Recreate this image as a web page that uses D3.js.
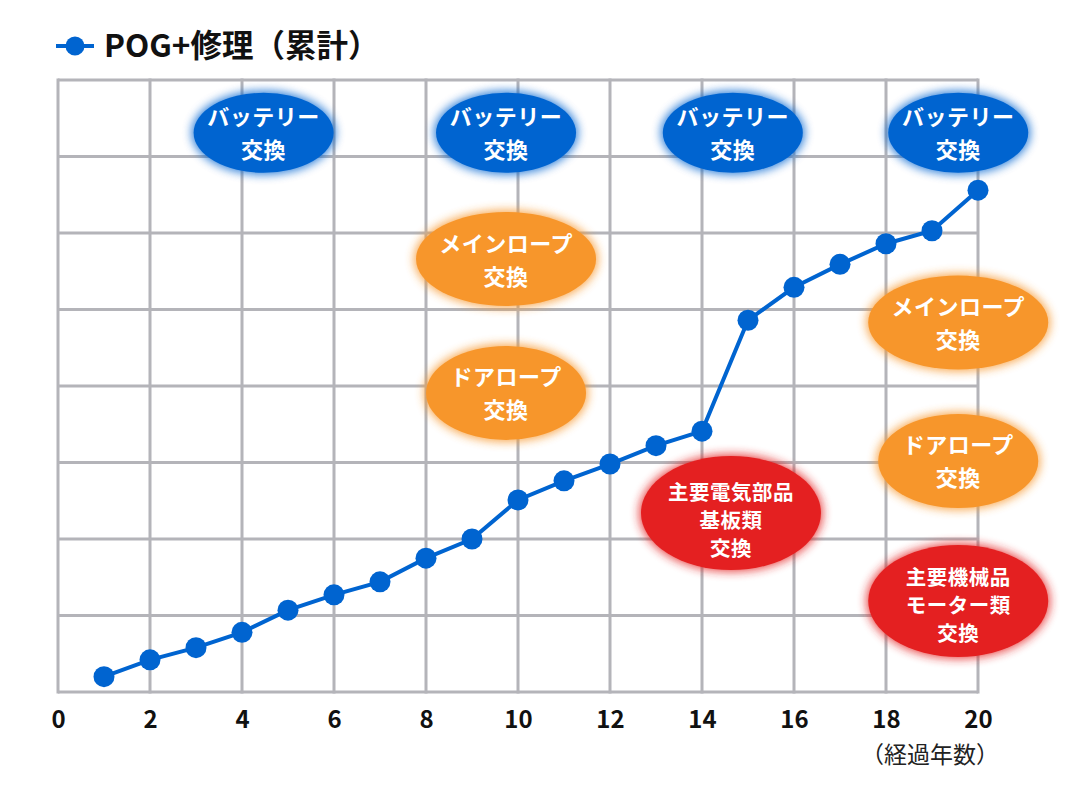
<!DOCTYPE html>
<html>
<head>
<meta charset="utf-8">
<script src="https://cdn.jsdelivr.net/npm/d3@7"></script>
<style>
  body { margin: 0; background: #fff; }
  svg { font-family: "Noto Sans CJK JP", "Noto Sans", sans-serif; }
</style>
</head>
<body>
<svg id="drawing_region"></svg>
<script>
// data
const years = d3.range(1, 21);
const costs = [0.2, 0.42, 0.58, 0.78, 1.07, 1.27, 1.44, 1.75, 2.0, 2.51,
               2.76, 2.98, 3.22, 3.41, 4.86, 5.29, 5.59, 5.86, 6.03, 6.56];
const xTicks = [0, 2, 4, 6, 8, 10, 12, 14, 16, 18, 20];
const yGrid = [0, 1, 2, 3, 4, 5, 6, 7, 8];
const seriesName = "POG+修理（累計）";
const xTitle = "（経過年数）";

// annotation bubbles (year, level, kind, lines)
const notes = [
  { x: 4.47, y: 7.31, kind: "battery", lines: ["バッテリー", "交換"] },
  { x: 9.74, y: 7.31, kind: "battery", lines: ["バッテリー", "交換"] },
  { x: 14.67, y: 7.31, kind: "battery", lines: ["バッテリー", "交換"] },
  { x: 19.57, y: 7.31, kind: "battery", lines: ["バッテリー", "交換"] },
  { x: 9.74, y: 5.66, kind: "main", lines: ["メインロープ", "交換"] },
  { x: 19.57, y: 4.83, kind: "main", lines: ["メインロープ", "交換"] },
  { x: 9.74, y: 3.91, kind: "door", lines: ["ドアロープ", "交換"] },
  { x: 19.57, y: 3.02, kind: "door", lines: ["ドアロープ", "交換"] },
  { x: 14.63, y: 2.34, kind: "elec", lines: ["主要電気部品", "基板類", "交換"] },
  { x: 19.57, y: 1.19, kind: "mech", lines: ["主要機械品", "モーター類", "交換"] }
];

const styles = {
  battery: { fill: "#0064d0", rx: 70, ry: 40, lh: 33, fs: 22, dy: 9 },
  main:    { fill: "#f7962b", rx: 90, ry: 47, lh: 33, fs: 22, dy: 9 },
  door:    { fill: "#f7962b", rx: 80, ry: 47, lh: 33, fs: 22, dy: 9 },
  elec:    { fill: "#e42021", rx: 90, ry: 57, lh: 28, fs: 20.5, dy: 15 },
  mech:    { fill: "#e42021", rx: 90, ry: 56, lh: 28, fs: 20.5, dy: 12 }
};

const width = 1068, height = 788;
const plotLeft = 58, plotRight = 978, plotTop = 80, plotBottom = 692;
const lineColor = "#0064d0";

const svg = d3.select("#drawing_region")
  .attr("width", width)
  .attr("height", height);

const x = d3.scaleLinear().domain([0, 20]).range([plotLeft, plotRight]);
const y = d3.scaleLinear().domain([0, 8]).range([plotBottom, plotTop]);

const defs = svg.append("defs");
defs.append("filter")
  .attr("id", "glow")
  .attr("x", "-30%").attr("y", "-30%")
  .attr("width", "160%").attr("height", "160%")
  .append("feGaussianBlur")
  .attr("stdDeviation", 5);

// grid
const grid = svg.append("g")
  .attr("stroke", "#b4b4b9")
  .attr("stroke-width", 3);

grid.selectAll("line.h")
  .data(yGrid)
  .enter()
  .append("line")
  .attr("class", "h")
  .attr("x1", x(0)).attr("x2", x(20))
  .attr("y1", d => y(d)).attr("y2", d => y(d));

grid.selectAll("line.v")
  .data(xTicks)
  .enter()
  .append("line")
  .attr("class", "v")
  .attr("x1", d => x(d)).attr("x2", d => x(d))
  .attr("y1", y(8) - 1.5).attr("y2", y(0) + 1.5);

// x axis labels
const xAxis = d3.axisBottom(x)
  .tickValues(xTicks)
  .tickSize(0)
  .tickPadding(0);

svg.append("g")
  .attr("transform", `translate(0, ${plotBottom})`)
  .call(xAxis)
  .call(g => g.select(".domain").remove())
  .selectAll("text")
  .attr("y", 36)
  .attr("dy", null)
  .attr("font-family", "'Noto Sans CJK JP', sans-serif")
  .attr("font-size", 24)
  .attr("font-weight", "bold")
  .attr("fill", "#111");

svg.append("text")
  .attr("x", x(20) + 21)
  .attr("y", 763)
  .attr("text-anchor", "end")
  .attr("font-size", 23)
  .attr("fill", "#222")
  .text(xTitle);

// bubbles
const bubble = svg.selectAll("g.note")
  .data(notes)
  .enter()
  .append("g")
  .attr("class", "note")
  .attr("transform", d => `translate(${x(d.x)}, ${y(d.y)})`);

bubble.append("ellipse")
  .attr("rx", d => styles[d.kind].rx + 2)
  .attr("ry", d => styles[d.kind].ry + 2)
  .attr("fill", d => styles[d.kind].fill)
  .attr("opacity", 0.8)
  .attr("filter", "url(#glow)");

bubble.append("ellipse")
  .attr("rx", d => styles[d.kind].rx)
  .attr("ry", d => styles[d.kind].ry)
  .attr("fill", d => styles[d.kind].fill);

bubble.each(function(d) {
  const s = styles[d.kind];
  const n = d.lines.length;
  d3.select(this).selectAll("text")
    .data(d.lines)
    .enter()
    .append("text")
    .attr("text-anchor", "middle")
    .attr("y", (t, i) => (i - (n - 1) / 2) * s.lh + s.dy)
    .attr("fill", "#fff")
    .attr("font-size", s.fs)
    .attr("font-weight", "bold")
    .attr("letter-spacing", 0.5)
    .text(t => t);
});

// line + points
const line = d3.line()
  .x((d, i) => x(years[i]))
  .y(d => y(d));

svg.append("path")
  .datum(costs)
  .attr("d", line)
  .attr("fill", "none")
  .attr("stroke", lineColor)
  .attr("stroke-width", 4);

svg.selectAll("circle.pt")
  .data(costs)
  .enter()
  .append("circle")
  .attr("class", "pt")
  .attr("cx", (d, i) => x(years[i]))
  .attr("cy", d => y(d))
  .attr("r", 10.5)
  .attr("fill", lineColor);

// legend
const legend = svg.append("g").attr("transform", "translate(56, 46)");
legend.append("line")
  .attr("x1", 0).attr("x2", 38)
  .attr("stroke", lineColor)
  .attr("stroke-width", 4);
legend.append("circle")
  .attr("cx", 19).attr("r", 9.5)
  .attr("fill", lineColor);
legend.append("text")
  .attr("x", 48).attr("y", 11)
  .attr("font-size", 31.5)
  .attr("font-weight", "bold")
  .attr("fill", "#111")
  .text(seriesName);
</script>
</body>
</html>
